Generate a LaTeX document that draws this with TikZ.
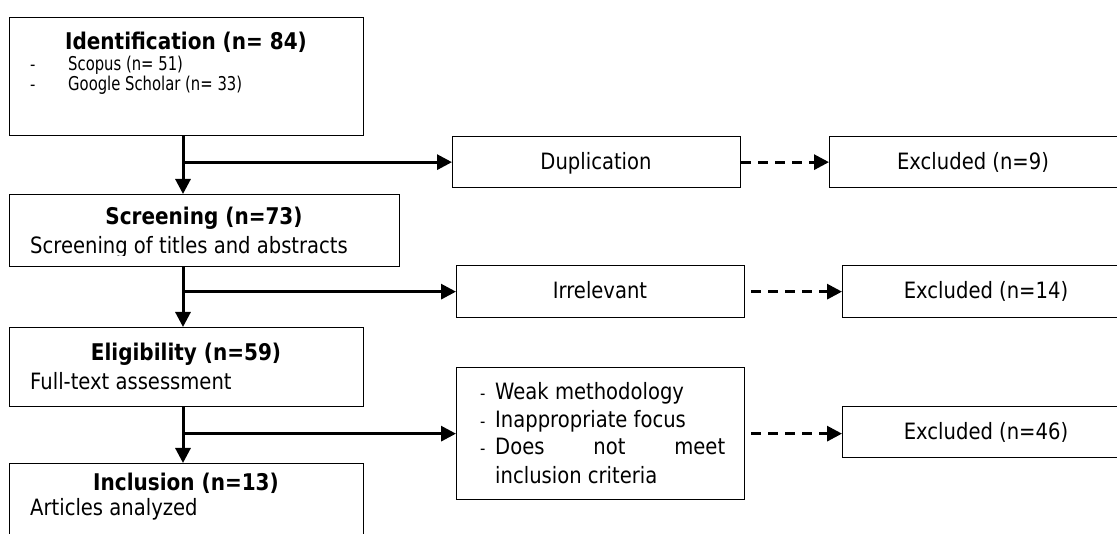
\documentclass[tikz,border=0pt]{standalone}
\usepackage{fontspec}
\setmainfont{DejaVu Sans}[FakeStretch=0.87]
\newfontfamily\narrowfont{DejaVu Sans}[FakeStretch=0.78]
\usetikzlibrary{arrows.meta,calc}
\begin{document}
\begin{tikzpicture}[x=1pt,y=-1pt,
  box/.style={draw, line width=1.3pt, rectangle, inner sep=0pt, anchor=north west},
  conn/.style={line width=3pt, -{Triangle[length=15pt,width=15pt]}},
  dconn/.style={line width=3pt, dash pattern=on 10pt off 7pt, -{Triangle[length=15pt,width=15pt]}},
  ttl/.style={font=\fontsize{23}{27}\selectfont\bfseries, anchor=base, inner sep=0pt},
  txt/.style={font=\fontsize{22.5}{27}\selectfont, anchor=base west, inner sep=0pt},
  sml/.style={font=\narrowfont\fontsize{19}{22}\selectfont, anchor=base west, inner sep=0pt},
  dsh/.style={font=\fontsize{17}{20}\selectfont, anchor=base west, inner sep=0pt},
  rtxt/.style={font=\fontsize{22.5}{27}\selectfont, anchor=base, inner sep=0pt}]
\useasboundingbox (0,0) rectangle (1117,534);
\clip (0,0) rectangle (1117,534);
% boxes
\node[box, minimum width=354pt, minimum height=118pt] (id) at (9,17) {};
\node[box, minimum width=390pt, minimum height=72pt] (scr) at (9,194) {};
\node[box, minimum width=354pt, minimum height=79pt] (elig) at (9,327) {};
\node[box, minimum width=354pt, minimum height=100pt] (incl) at (9,463) {};
\node[box, minimum width=288pt, minimum height=51pt] (dup) at (452,136) {};
\node[box, minimum width=288pt, minimum height=51pt] (ex1) at (829,136) {};
\node[box, minimum width=288pt, minimum height=52pt] (irr) at (456,265) {};
\node[box, minimum width=288pt, minimum height=52pt] (ex2) at (842,265) {};
\node[box, minimum width=288pt, minimum height=132pt] (weak) at (456,367) {};
\node[box, minimum width=288pt, minimum height=51pt] (ex3) at (842,406) {};
% texts
\node[ttl] (idt) at (186,50) {Identification (n= 84)};
\node[dsh] (d1) at (30,71) {-};
\node[sml] (s1) at (68,71) {Scopus (n= 51)};
\node[dsh] (d2) at (30,91) {-};
\node[sml] (s2) at (68,91) {Google Scholar (n= 33)};
\node[ttl] (scrt) at (204,225) {Screening (n=73)};
\begin{scope}
\clip (9,194) rectangle (399,255.5);
\node[txt] (scrb) at (30,254) {Screening of titles and abstracts};
\end{scope}
\node[ttl] (eligt) at (186,361) {Eligibility (n=59)};
\node[txt] (eligb) at (30,390) {Full-text assessment};
\node[ttl] (inclt) at (186,490) {Inclusion (n=13)};
\node[txt] (inclb) at (30,515) {Articles analyzed};
\node[rtxt] (dupt) at (596,170) {Duplication};
\node[rtxt] (ex1t) at (973,170) {Excluded (n=9)};
\node[rtxt] (irrt) at (600,299) {Irrelevant};
\node[rtxt] (ex2t) at (986,299) {Excluded (n=14)};
\node[rtxt] (ex3t) at (986,440) {Excluded (n=46)};
\node[dsh] (w1d) at (480,400) {-};
\node[txt] (w1) at (495,400) {Weak methodology};
\node[dsh] (w2d) at (480,428) {-};
\node[txt] (w2) at (495,428) {Inappropriate focus};
\node[dsh] (w3d) at (480,455) {-};
\node[txt] (w3) at (495,455) {\makebox[230pt][s]{Does\hfill not\hfill meet}};
\node[txt] (w4) at (495,483) {inclusion criteria};
% connectors
\coordinate (vx) at (183,0);
\draw[conn] (id.south -| vx) -- (scr.north -| vx);
\draw[conn] (vx |- dup.west) -- (dup.west);
\draw[dconn] (dup.east) -- (ex1.west);
\draw[conn] (scr.south -| vx) -- (elig.north -| vx);
\draw[conn] (vx |- irr.west) -- (irr.west);
\draw[dconn] ([xshift=6pt]irr.east) -- (ex2.west);
\draw[conn] (elig.south -| vx) -- (incl.north -| vx);
\draw[conn] (vx |- weak.west) -- (weak.west);
\draw[dconn] ([xshift=6pt]weak.east) -- (weak.east -| ex3.west);
\end{tikzpicture}
\end{document}
